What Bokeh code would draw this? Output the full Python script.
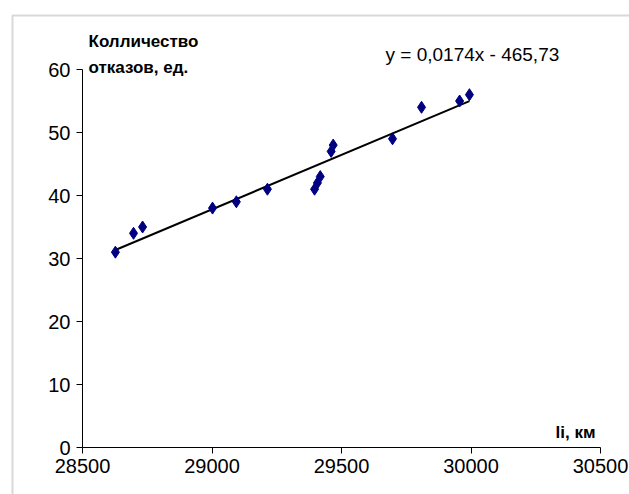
import numpy as np
from bokeh.plotting import figure
from bokeh.models import Range1d, FixedTicker, Label, BoxAnnotation, LinearAxis
from bokeh.embed import file_html
from bokeh.resources import INLINE

# data
mileage_km = [28627, 28697, 28732, 29002, 29094, 29214, 29396, 29407, 29418,
              29460, 29468, 29697, 29809, 29956, 29994]
failures = [31, 34, 35, 38, 39, 41, 41, 42, 43, 47, 48, 49, 54, 55, 56]
x_ticks = [28500, 29000, 29500, 30000, 30500]
y_ticks = [0, 10, 20, 30, 40, 50, 60]
equation_text = "y = 0,0174x - 465,73"
y_title = "Колличество\nотказов, ед."
x_title = "li, км"

FONT = "Liberation Sans"
W, H = 629, 494

# plot area in pixels: x 28500..30500 -> 82..600, y 0..60 -> 447..69
kx = (600 - 82) / (x_ticks[-1] - x_ticks[0])
ky = (447 - 69) / (y_ticks[-1] - y_ticks[0])
x_range = Range1d(x_ticks[0] - 82 / kx, x_ticks[-1] + (W - 600) / kx)
y_range = Range1d(y_ticks[0] - (H - 447) / ky, y_ticks[-1] + 69 / ky)

p = figure(width=W, height=H, output_backend="svg", toolbar_location=None,
           x_range=x_range, y_range=y_range, x_axis_type=None, y_axis_type=None,
           min_border=0)
p.outline_line_color = None
p.background_fill_color = "white"
p.border_fill_color = "white"

xa = LinearAxis(ticker=FixedTicker(ticks=x_ticks), fixed_location=y_ticks[0],
                bounds=(x_ticks[0], x_ticks[-1]))
ya = LinearAxis(ticker=FixedTicker(ticks=y_ticks), fixed_location=x_ticks[0],
                bounds=(y_ticks[0], y_ticks[-1]))
for ax in (xa, ya):
    ax.axis_line_color = "black"
    ax.axis_line_width = 1
    ax.major_tick_line_color = "black"
    ax.major_tick_out = 6
    ax.major_tick_in = 0
    ax.minor_tick_line_color = None
    ax.major_label_text_font = FONT
    ax.major_label_text_font_size = "20px"
    ax.major_label_text_color = "black"
xa.major_label_standoff = 5
ya.major_label_standoff = 6
p.add_layout(xa, "below")
p.add_layout(ya, "left")

# least-squares trend line over the data span
slope, intercept = np.polyfit(mileage_km, failures, 1)
x0, x1 = min(mileage_km), max(mileage_km)
p.line([x0, x1], [slope * x0 + intercept, slope * x1 + intercept],
       line_color="black", line_width=2)

p.scatter(mileage_km, failures, marker="diamond", size=12,
          fill_color="#000080", line_color="#000080")

p.add_layout(Label(x=385, y=H - 64, x_units="screen", y_units="screen", text=equation_text,
                   text_font=FONT, text_font_size="19px", text_color="black"))
p.add_layout(Label(x=88, y=H - 77, x_units="screen", y_units="screen", text=y_title,
                   text_font=FONT, text_font_size="17px", text_font_style="bold",
                   text_color="black", text_line_height=1.4))
p.add_layout(Label(x=555, y=H - 441, x_units="screen", y_units="screen", text=x_title,
                   text_font=FONT, text_font_size="17px", text_font_style="bold",
                   text_color="black"))

p.add_layout(BoxAnnotation(left=12, right=W + 50, top=H - 15, bottom=-50,
                           left_units="screen", right_units="screen",
                           top_units="screen", bottom_units="screen",
                           fill_color=None, line_color="#7f7f7f", line_width=2))

open("out.html", "w").write(file_html(p, INLINE))
